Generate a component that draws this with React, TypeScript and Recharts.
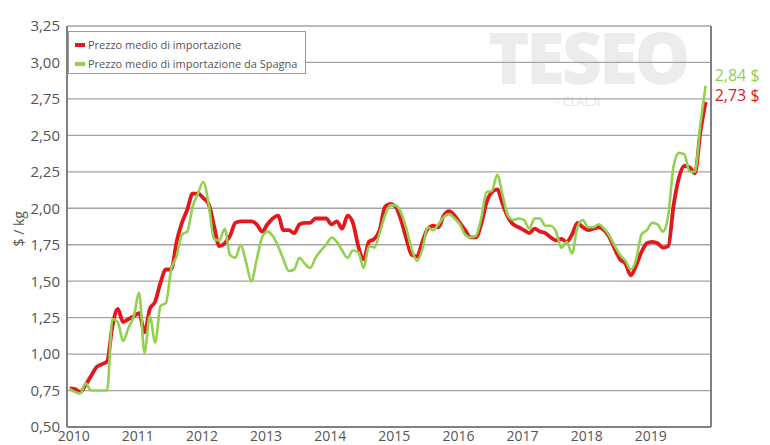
import React from "react";
import { CartesianGrid, Line, LineChart, ReferenceLine, XAxis, YAxis } from "recharts";

// monthly values, Jan 2010 .. Dec 2019 ($/kg)
const importPrice = [
  0.765, 0.76, 0.74, 0.79, 0.85, 0.91, 0.93, 0.95, 1.19, 1.31,
  1.22, 1.24, 1.26, 1.28, 1.15, 1.31, 1.36, 1.49, 1.58, 1.58,
  1.77, 1.9, 1.99, 2.1, 2.1, 2.07, 2.03, 1.88, 1.74, 1.76,
  1.81, 1.9, 1.91, 1.91, 1.91, 1.89, 1.84, 1.89, 1.93, 1.95,
  1.85, 1.85, 1.83, 1.89, 1.9, 1.9, 1.93, 1.93, 1.93, 1.89,
  1.91, 1.86, 1.95, 1.9, 1.74, 1.65, 1.77, 1.79, 1.85, 2.01,
  2.03, 2.01, 1.92, 1.79, 1.68, 1.67, 1.77, 1.86, 1.88, 1.87,
  1.95, 1.98, 1.95, 1.9, 1.85, 1.8, 1.8, 1.89, 2.04, 2.11,
  2.13, 2.03, 1.94, 1.89, 1.87, 1.85, 1.83, 1.86, 1.84, 1.83,
  1.8, 1.78, 1.79, 1.77, 1.82, 1.9, 1.87, 1.85, 1.86, 1.87,
  1.85, 1.8, 1.72, 1.65, 1.62, 1.54, 1.61, 1.7, 1.76, 1.77,
  1.76, 1.73, 1.74, 2.02, 2.21, 2.29, 2.28, 2.24, 2.52, 2.73,
];

const spainPrice = [
  0.76, 0.74, 0.73, 0.8, 0.75, 0.75, 0.75, 0.75, 1.24, 1.22,
  1.09, 1.18, 1.26, 1.42, 1.01, 1.26, 1.08, 1.33, 1.35, 1.58,
  1.67, 1.82, 1.84, 2.01, 2.1, 2.18, 2.03, 1.79, 1.78, 1.86,
  1.68, 1.66, 1.75, 1.63, 1.5, 1.65, 1.8, 1.84, 1.81, 1.74,
  1.65, 1.57, 1.58, 1.66, 1.62, 1.59, 1.66, 1.71, 1.75, 1.8,
  1.77, 1.71, 1.66, 1.71, 1.7, 1.59, 1.74, 1.73, 1.83, 1.95,
  2.02, 2.02, 1.97, 1.86, 1.72, 1.64, 1.72, 1.87, 1.85, 1.89,
  1.94, 1.96, 1.93, 1.89, 1.82, 1.8, 1.81, 1.93, 2.11, 2.12,
  2.23, 2.09, 1.95, 1.92, 1.93, 1.92, 1.86, 1.93, 1.93, 1.88,
  1.88, 1.84, 1.73, 1.77, 1.69, 1.87, 1.92, 1.87, 1.87, 1.89,
  1.86, 1.81, 1.74, 1.68, 1.64, 1.58, 1.65, 1.82, 1.85, 1.9,
  1.89, 1.84, 1.95, 2.29, 2.38, 2.37, 2.25, 2.25, 2.57, 2.84,
];

const years = ["2010", "2011", "2012", "2013", "2014", "2015", "2016", "2017", "2018", "2019"];
const yTicks = [0.5, 0.75, 1, 1.25, 1.5, 1.75, 2, 2.25, 2.5, 2.75, 3, 3.25];

const RED = "#e3171c";
const GREEN = "#92d050";
const FONT = "'Open Sans', sans-serif";

const data = importPrice.map((v, i) => ({ m: i, avg: v, spain: spainPrice[i] }));
const last = data.length - 1;
const fmt = (v: number) => v.toFixed(2).replace(".", ",");

const endLabel = (color: string, dy: number) => (p: any) =>
  p.index === last ? (
    <text x={p.x + 9} y={p.y + dy} fill={color} fontSize={16} fontWeight={500} fontFamily={FONT} dominantBaseline="middle">
      {fmt(p.value)} $
    </text>
  ) : null;

function LegendBox() {
  const row = (color: string, text: string) => (
    <div style={{ display: "flex", alignItems: "center", height: 19 }}>
      <span style={{ width: 10, height: 4, background: color, marginRight: 3 }} />
      <span>{text}</span>
    </div>
  );
  return (
    <div style={{ position: "absolute", left: 68, top: 31, border: "1px solid #9a9a9a", background: "#fff", width: 238, height: 43, boxSizing: "border-box", padding: "3px 0 0 6px", fontSize: 11, color: "#555", fontFamily: FONT, lineHeight: "13px" }}>
      {row(RED, "Prezzo medio di importazione")}
      {row(GREEN, "Prezzo medio di importazione da Spagna")}
    </div>
  );
}

export default function App() {
  return (
    <div style={{ position: "absolute", left: 0, top: 0, width: 770, height: 445, background: "#fff", overflow: "hidden" }}>
      <div style={{ position: "absolute", left: 488, top: 28, fontSize: 70, lineHeight: "58px", fontWeight: 800, color: "#ececec", fontFamily: FONT, letterSpacing: -3 }}>TESEO</div>
      <div style={{ position: "absolute", left: 556, top: 95, fontSize: 12, lineHeight: "14px", color: "#e4e4e4", fontFamily: FONT }}>- CLAL.it</div>
      <LineChart width={770} height={445} data={data} margin={{ top: 26, right: 59, bottom: 0, left: 0 }} style={{ position: "absolute", left: 0, top: 0 }}>
        <CartesianGrid vertical={false} stroke="#a3a3a3" strokeWidth={1.3} />
        <XAxis
          dataKey="m"
          type="number"
          domain={[-0.5, 120]}
          ticks={years.map((_, i) => i * 12)}
          tickFormatter={(m: number) => years[m / 12]}
          height={18}
          tickLine={false}
          tickSize={0}
          tickMargin={4}
          dx={4}
          axisLine={{ stroke: "#808080", strokeWidth: 2 }}
          tick={{ fill: "#555", fontSize: 14, fontFamily: FONT }}
        />
        <YAxis
          domain={[0.5, 3.25]}
          ticks={yTicks}
          tickFormatter={fmt}
          width={67}
          tickLine={false}
          tickSize={0}
          tickMargin={7}
          axisLine={{ stroke: "#808080", strokeWidth: 2 }}
          tick={{ fill: "#555", fontSize: 15, fontFamily: FONT }}
          label={{ value: "$ / kg", angle: -90, position: "insideLeft", offset: 19, dy: 20, style: { fill: "#555", fontSize: 14, fontFamily: FONT } }}
        />
        <ReferenceLine x={120} stroke="#808080" strokeWidth={2} />
        <Line
          dataKey="avg"
          name="Prezzo medio di importazione"
          type="monotone"
          stroke={RED}
          strokeWidth={3.8}
          dot={false}
          isAnimationActive={false}
          label={endLabel(RED, -5)}
        />
        <Line
          dataKey="spain"
          name="Prezzo medio di importazione da Spagna"
          type="monotone"
          stroke={GREEN}
          strokeWidth={2.6}
          dot={false}
          isAnimationActive={false}
          label={endLabel(GREEN, -9)}
        />
      </LineChart>
      <LegendBox />
    </div>
  );
}
